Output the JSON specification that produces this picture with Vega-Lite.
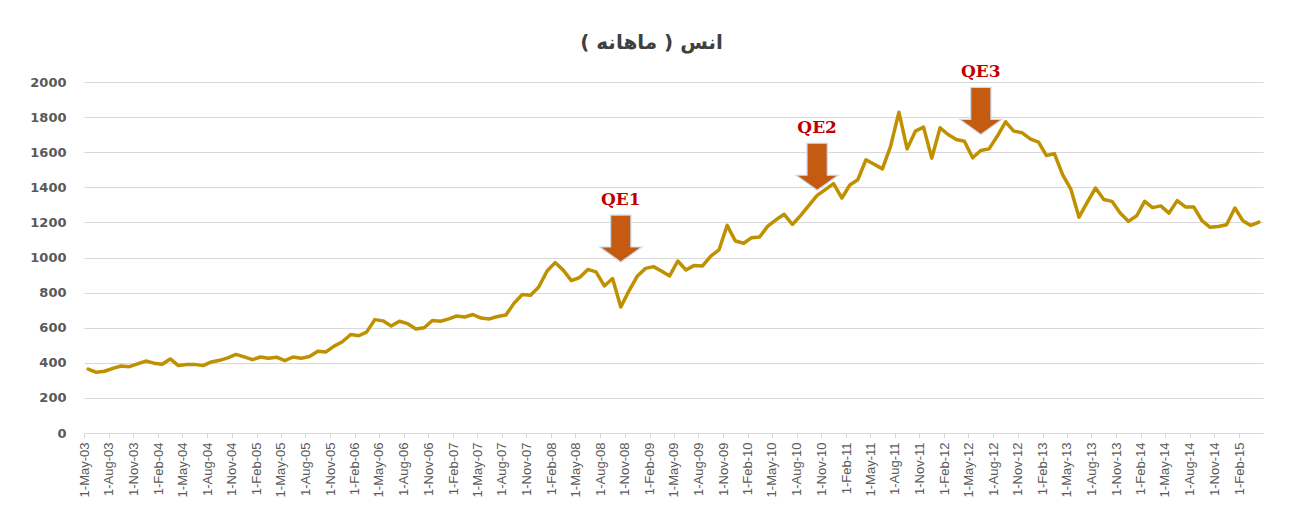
{
  "$schema": "https://vega.github.io/schema/vega-lite/v6.json",
  "width": 1179,
  "height": 351,
  "autosize": {"type": "none"},
  "padding": {"left": 84, "top": 82, "right": 32, "bottom": 78},
  "background": "white",
  "title": {
    "text": "انس ( ماهانه )",
    "font": "DejaVu Sans",
    "fontSize": 20,
    "fontWeight": "bold",
    "color": "#404040",
    "anchor": "middle",
    "frame": "group",
    "dx": -22,
    "offset": -6,
    "baseline": "alphabetic"
  },
  "config": {"view": {"stroke": null}},
  "encoding": {
    "x": {
      "field": "date",
      "type": "temporal",
      "timeUnit": "utcyearmonth",
      "bandPosition": 0.5,
      "title": null,
      "scale": {
        "type": "utc",
        "domain": [
          {"year": 2003, "month": 5, "date": 1, "utc": true},
          {"year": 2015, "month": 5, "date": 1, "utc": true}
        ]
      },
      "axis": {
        "title": null,
        "labelExpr": "utcFormat(datum.value, '%-d-%b-%y')",
        "labelAngle": -90,
        "labelFont": "Liberation Sans",
        "labelFontSize": 13,
        "labelColor": "#595959",
        "labelPadding": 4,
        "labelOverlap": false,
        "labelFlush": false,
        "labelBound": false,
        "tickSize": 5,
        "tickColor": "#d9d9d9",
        "domainColor": "#d9d9d9",
        "grid": false,
        "values": [
          {"year": 2003, "month": 5, "date": 1, "utc": true}, {"year": 2003, "month": 8, "date": 1, "utc": true}, {"year": 2003, "month": 11, "date": 1, "utc": true},
          {"year": 2004, "month": 2, "date": 1, "utc": true}, {"year": 2004, "month": 5, "date": 1, "utc": true}, {"year": 2004, "month": 8, "date": 1, "utc": true}, {"year": 2004, "month": 11, "date": 1, "utc": true},
          {"year": 2005, "month": 2, "date": 1, "utc": true}, {"year": 2005, "month": 5, "date": 1, "utc": true}, {"year": 2005, "month": 8, "date": 1, "utc": true}, {"year": 2005, "month": 11, "date": 1, "utc": true},
          {"year": 2006, "month": 2, "date": 1, "utc": true}, {"year": 2006, "month": 5, "date": 1, "utc": true}, {"year": 2006, "month": 8, "date": 1, "utc": true}, {"year": 2006, "month": 11, "date": 1, "utc": true},
          {"year": 2007, "month": 2, "date": 1, "utc": true}, {"year": 2007, "month": 5, "date": 1, "utc": true}, {"year": 2007, "month": 8, "date": 1, "utc": true}, {"year": 2007, "month": 11, "date": 1, "utc": true},
          {"year": 2008, "month": 2, "date": 1, "utc": true}, {"year": 2008, "month": 5, "date": 1, "utc": true}, {"year": 2008, "month": 8, "date": 1, "utc": true}, {"year": 2008, "month": 11, "date": 1, "utc": true},
          {"year": 2009, "month": 2, "date": 1, "utc": true}, {"year": 2009, "month": 5, "date": 1, "utc": true}, {"year": 2009, "month": 8, "date": 1, "utc": true}, {"year": 2009, "month": 11, "date": 1, "utc": true},
          {"year": 2010, "month": 2, "date": 1, "utc": true}, {"year": 2010, "month": 5, "date": 1, "utc": true}, {"year": 2010, "month": 8, "date": 1, "utc": true}, {"year": 2010, "month": 11, "date": 1, "utc": true},
          {"year": 2011, "month": 2, "date": 1, "utc": true}, {"year": 2011, "month": 5, "date": 1, "utc": true}, {"year": 2011, "month": 8, "date": 1, "utc": true}, {"year": 2011, "month": 11, "date": 1, "utc": true},
          {"year": 2012, "month": 2, "date": 1, "utc": true}, {"year": 2012, "month": 5, "date": 1, "utc": true}, {"year": 2012, "month": 8, "date": 1, "utc": true}, {"year": 2012, "month": 11, "date": 1, "utc": true},
          {"year": 2013, "month": 2, "date": 1, "utc": true}, {"year": 2013, "month": 5, "date": 1, "utc": true}, {"year": 2013, "month": 8, "date": 1, "utc": true}, {"year": 2013, "month": 11, "date": 1, "utc": true},
          {"year": 2014, "month": 2, "date": 1, "utc": true}, {"year": 2014, "month": 5, "date": 1, "utc": true}, {"year": 2014, "month": 8, "date": 1, "utc": true}, {"year": 2014, "month": 11, "date": 1, "utc": true},
          {"year": 2015, "month": 2, "date": 1, "utc": true}
        ]
      }
    },
    "y": {
      "field": "price",
      "type": "quantitative",
      "title": null,
      "scale": {"domain": [0, 2000], "nice": false},
      "axis": {
        "title": null,
        "values": [0, 200, 400, 600, 800, 1000, 1200, 1400, 1600, 1800, 2000],
        "format": "d",
        "labelFont": "DejaVu Sans",
        "labelFontWeight": "bold",
        "labelFontSize": 13,
        "labelColor": "#595959",
        "labelPadding": 18,
        "ticks": false,
        "domain": false,
        "grid": true,
        "gridColor": "#d9d9d9",
        "gridWidth": 1
      }
    }
  },
  "layer": [
    {
      "data": {
        "values": [
          {"date": "2003-05-01", "price": 364}, {"date": "2003-06-01", "price": 346}, {"date": "2003-07-01", "price": 352},
          {"date": "2003-08-01", "price": 368}, {"date": "2003-09-01", "price": 382}, {"date": "2003-10-01", "price": 378},
          {"date": "2003-11-01", "price": 394}, {"date": "2003-12-01", "price": 410}, {"date": "2004-01-01", "price": 398},
          {"date": "2004-02-01", "price": 392}, {"date": "2004-03-01", "price": 422}, {"date": "2004-04-01", "price": 384},
          {"date": "2004-05-01", "price": 390}, {"date": "2004-06-01", "price": 391}, {"date": "2004-07-01", "price": 384},
          {"date": "2004-08-01", "price": 405}, {"date": "2004-09-01", "price": 414}, {"date": "2004-10-01", "price": 428},
          {"date": "2004-11-01", "price": 448}, {"date": "2004-12-01", "price": 434}, {"date": "2005-01-01", "price": 418},
          {"date": "2005-02-01", "price": 433}, {"date": "2005-03-01", "price": 426}, {"date": "2005-04-01", "price": 432},
          {"date": "2005-05-01", "price": 412}, {"date": "2005-06-01", "price": 433}, {"date": "2005-07-01", "price": 426},
          {"date": "2005-08-01", "price": 436}, {"date": "2005-09-01", "price": 466}, {"date": "2005-10-01", "price": 462},
          {"date": "2005-11-01", "price": 495}, {"date": "2005-12-01", "price": 520}, {"date": "2006-01-01", "price": 561},
          {"date": "2006-02-01", "price": 554}, {"date": "2006-03-01", "price": 575}, {"date": "2006-04-01", "price": 646},
          {"date": "2006-05-01", "price": 639}, {"date": "2006-06-01", "price": 610}, {"date": "2006-07-01", "price": 637},
          {"date": "2006-08-01", "price": 623}, {"date": "2006-09-01", "price": 593}, {"date": "2006-10-01", "price": 600},
          {"date": "2006-11-01", "price": 641}, {"date": "2006-12-01", "price": 637}, {"date": "2007-01-01", "price": 650},
          {"date": "2007-02-01", "price": 667}, {"date": "2007-03-01", "price": 661}, {"date": "2007-04-01", "price": 675},
          {"date": "2007-05-01", "price": 655}, {"date": "2007-06-01", "price": 650}, {"date": "2007-07-01", "price": 664},
          {"date": "2007-08-01", "price": 672}, {"date": "2007-09-01", "price": 740}, {"date": "2007-10-01", "price": 789},
          {"date": "2007-11-01", "price": 785}, {"date": "2007-12-01", "price": 832}, {"date": "2008-01-01", "price": 923},
          {"date": "2008-02-01", "price": 971}, {"date": "2008-03-01", "price": 928}, {"date": "2008-04-01", "price": 868},
          {"date": "2008-05-01", "price": 886}, {"date": "2008-06-01", "price": 932}, {"date": "2008-07-01", "price": 918},
          {"date": "2008-08-01", "price": 838}, {"date": "2008-09-01", "price": 880}, {"date": "2008-10-01", "price": 718},
          {"date": "2008-11-01", "price": 810}, {"date": "2008-12-01", "price": 893}, {"date": "2009-01-01", "price": 938},
          {"date": "2009-02-01", "price": 948}, {"date": "2009-03-01", "price": 923}, {"date": "2009-04-01", "price": 895},
          {"date": "2009-05-01", "price": 980}, {"date": "2009-06-01", "price": 929}, {"date": "2009-07-01", "price": 955},
          {"date": "2009-08-01", "price": 952}, {"date": "2009-09-01", "price": 1008}, {"date": "2009-10-01", "price": 1043},
          {"date": "2009-11-01", "price": 1183}, {"date": "2009-12-01", "price": 1094}, {"date": "2010-01-01", "price": 1081},
          {"date": "2010-02-01", "price": 1113}, {"date": "2010-03-01", "price": 1117}, {"date": "2010-04-01", "price": 1179},
          {"date": "2010-05-01", "price": 1215}, {"date": "2010-06-01", "price": 1246}, {"date": "2010-07-01", "price": 1188},
          {"date": "2010-08-01", "price": 1240}, {"date": "2010-09-01", "price": 1297}, {"date": "2010-10-01", "price": 1354},
          {"date": "2010-11-01", "price": 1387}, {"date": "2010-12-01", "price": 1421}, {"date": "2011-01-01", "price": 1339},
          {"date": "2011-02-01", "price": 1413}, {"date": "2011-03-01", "price": 1443}, {"date": "2011-04-01", "price": 1557},
          {"date": "2011-05-01", "price": 1531}, {"date": "2011-06-01", "price": 1505}, {"date": "2011-07-01", "price": 1633},
          {"date": "2011-08-01", "price": 1828}, {"date": "2011-09-01", "price": 1619}, {"date": "2011-10-01", "price": 1720},
          {"date": "2011-11-01", "price": 1743}, {"date": "2011-12-01", "price": 1566}, {"date": "2012-01-01", "price": 1739},
          {"date": "2012-02-01", "price": 1701}, {"date": "2012-03-01", "price": 1672}, {"date": "2012-04-01", "price": 1662},
          {"date": "2012-05-01", "price": 1568}, {"date": "2012-06-01", "price": 1610}, {"date": "2012-07-01", "price": 1619},
          {"date": "2012-08-01", "price": 1692}, {"date": "2012-09-01", "price": 1773}, {"date": "2012-10-01", "price": 1720},
          {"date": "2012-11-01", "price": 1711}, {"date": "2012-12-01", "price": 1676}, {"date": "2013-01-01", "price": 1657},
          {"date": "2013-02-01", "price": 1581}, {"date": "2013-03-01", "price": 1592}, {"date": "2013-04-01", "price": 1472},
          {"date": "2013-05-01", "price": 1390}, {"date": "2013-06-01", "price": 1230}, {"date": "2013-07-01", "price": 1314},
          {"date": "2013-08-01", "price": 1396}, {"date": "2013-09-01", "price": 1330}, {"date": "2013-10-01", "price": 1320},
          {"date": "2013-11-01", "price": 1253}, {"date": "2013-12-01", "price": 1206}, {"date": "2014-01-01", "price": 1238},
          {"date": "2014-02-01", "price": 1320}, {"date": "2014-03-01", "price": 1284}, {"date": "2014-04-01", "price": 1294},
          {"date": "2014-05-01", "price": 1253}, {"date": "2014-06-01", "price": 1324}, {"date": "2014-07-01", "price": 1288},
          {"date": "2014-08-01", "price": 1288}, {"date": "2014-09-01", "price": 1210}, {"date": "2014-10-01", "price": 1172},
          {"date": "2014-11-01", "price": 1177}, {"date": "2014-12-01", "price": 1187}, {"date": "2015-01-01", "price": 1282},
          {"date": "2015-02-01", "price": 1210}, {"date": "2015-03-01", "price": 1183}, {"date": "2015-04-01", "price": 1202}
        ]
      },
      "mark": {"type": "line", "color": "#bf9000", "strokeWidth": 3.5, "strokeJoin": "round", "strokeCap": "round"}
    },
    {
      "data": {"name": "qe", "values": [
        {"label": "QE1", "date": "2008-10-01", "price": 1108},
        {"label": "QE2", "date": "2010-10-01", "price": 1517},
        {"label": "QE3", "date": "2012-06-01", "price": 1835}
      ]},
      "layer": [
        {
          "mark": {
            "type": "point",
            "shape": "M-0.43,-1L0.43,-1L0.43,0.36L0.89,0.36L0,1L-0.89,0.36L-0.43,0.36Z",
            "filled": true,
            "fill": "#c55a11",
            "stroke": "#c9daf0",
            "strokeWidth": 1.2,
            "opacity": 1,
            "size": 2209
          }
        },
        {
          "mark": {
            "type": "text",
            "font": "DejaVu Serif",
            "fontSize": 17,
            "fontWeight": "bold",
            "color": "#c00000",
            "baseline": "alphabetic",
            "align": "center",
            "dy": -33.5
          },
          "encoding": {"text": {"field": "label"}}
        }
      ]
    }
  ]
}
